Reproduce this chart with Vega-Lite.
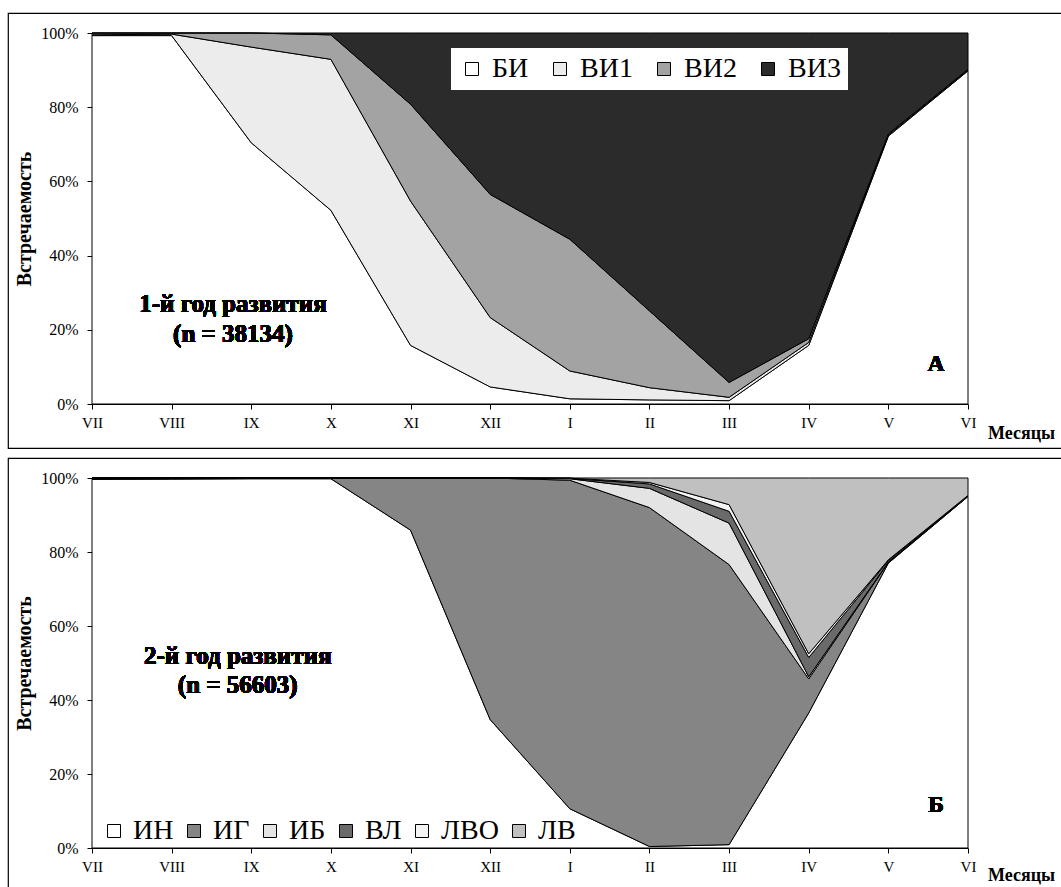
{
  "$schema": "https://vega.github.io/schema/vega-lite/v6.json",
  "padding": {"left": 7, "top": 12, "right": 0, "bottom": 0},
  "spacing": 8,
  "config": {
    "view": {"stroke": "black", "strokeWidth": 1.2},
    "font": "Liberation Serif, Times New Roman, serif",
    "axis": {"labelFont": "Liberation Serif, Times New Roman, serif", "titleFont": "Liberation Serif, Times New Roman, serif", "labelColor": "black", "titleColor": "black", "domainColor": "black", "tickColor": "black", "grid": false, "tickSize": 5, "domainWidth": 1, "tickWidth": 1},
    "legend": {"labelFont": "Liberation Serif, Times New Roman, serif", "labelColor": "black"},
    "text": {"font": "Liberation Serif, Times New Roman, serif", "color": "black"}
  },
  "resolve": {"scale": {"color": "independent", "x": "independent", "y": "independent"}, "legend": {"color": "independent"}},
  "vconcat": [
    {
      "width": 1054,
      "height": 435,
      "data": {"values": [
        {"m": 0, "s": "БИ", "k": 1, "v": 99.3}, {"m": 0, "s": "ВИ1", "k": 2, "v": 0.2}, {"m": 0, "s": "ВИ2", "k": 3, "v": 0.5}, {"m": 0, "s": "ВИ3", "k": 4, "v": 0},
        {"m": 1, "s": "БИ", "k": 1, "v": 99.3}, {"m": 1, "s": "ВИ1", "k": 2, "v": 0.4}, {"m": 1, "s": "ВИ2", "k": 3, "v": 0.3}, {"m": 1, "s": "ВИ3", "k": 4, "v": 0},
        {"m": 2, "s": "БИ", "k": 1, "v": 70.4}, {"m": 2, "s": "ВИ1", "k": 2, "v": 25.8}, {"m": 2, "s": "ВИ2", "k": 3, "v": 3.8}, {"m": 2, "s": "ВИ3", "k": 4, "v": 0},
        {"m": 3, "s": "БИ", "k": 1, "v": 52.2}, {"m": 3, "s": "ВИ1", "k": 2, "v": 40.7}, {"m": 3, "s": "ВИ2", "k": 3, "v": 6.6}, {"m": 3, "s": "ВИ3", "k": 4, "v": 0.5},
        {"m": 4, "s": "БИ", "k": 1, "v": 15.8}, {"m": 4, "s": "ВИ1", "k": 2, "v": 38.9}, {"m": 4, "s": "ВИ2", "k": 3, "v": 26.1}, {"m": 4, "s": "ВИ3", "k": 4, "v": 19.2},
        {"m": 5, "s": "БИ", "k": 1, "v": 4.6}, {"m": 5, "s": "ВИ1", "k": 2, "v": 18.7}, {"m": 5, "s": "ВИ2", "k": 3, "v": 33.2}, {"m": 5, "s": "ВИ3", "k": 4, "v": 43.5},
        {"m": 6, "s": "БИ", "k": 1, "v": 1.4}, {"m": 6, "s": "ВИ1", "k": 2, "v": 7.5}, {"m": 6, "s": "ВИ2", "k": 3, "v": 35.5}, {"m": 6, "s": "ВИ3", "k": 4, "v": 55.6},
        {"m": 7, "s": "БИ", "k": 1, "v": 1.1}, {"m": 7, "s": "ВИ1", "k": 2, "v": 3.3}, {"m": 7, "s": "ВИ2", "k": 3, "v": 20.7}, {"m": 7, "s": "ВИ3", "k": 4, "v": 74.9},
        {"m": 8, "s": "БИ", "k": 1, "v": 0.9}, {"m": 8, "s": "ВИ1", "k": 2, "v": 0.9}, {"m": 8, "s": "ВИ2", "k": 3, "v": 4.0}, {"m": 8, "s": "ВИ3", "k": 4, "v": 94.2},
        {"m": 9, "s": "БИ", "k": 1, "v": 15.8}, {"m": 9, "s": "ВИ1", "k": 2, "v": 0.8}, {"m": 9, "s": "ВИ2", "k": 3, "v": 1.0}, {"m": 9, "s": "ВИ3", "k": 4, "v": 82.4},
        {"m": 10, "s": "БИ", "k": 1, "v": 72.2}, {"m": 10, "s": "ВИ1", "k": 2, "v": 0.3}, {"m": 10, "s": "ВИ2", "k": 3, "v": 0.3}, {"m": 10, "s": "ВИ3", "k": 4, "v": 27.2},
        {"m": 11, "s": "БИ", "k": 1, "v": 89.8}, {"m": 11, "s": "ВИ1", "k": 2, "v": 0.2}, {"m": 11, "s": "ВИ2", "k": 3, "v": 0.2}, {"m": 11, "s": "ВИ3", "k": 4, "v": 9.8}
      ]},
      "layer": [
        {
          "mark": {"type": "area", "stroke": "black", "strokeWidth": 1},
          "encoding": {
            "x": {"field": "m", "type": "quantitative", "scale": {"domain": [0, 11], "range": [84, 960], "nice": false, "zero": false},
              "axis": {"orient": "bottom", "offset": -44, "values": [0,1,2,3,4,5,6,7,8,9,10,11], "labelExpr": "['VII','VIII','IX','X','XI','XII','I','II','III','IV','V','VI'][datum.value]", "labelFontSize": 15, "labelPadding": 6, "labelFlush": false,
                "title": "Месяцы", "titleFontSize": 18, "titleFontWeight": "bold", "titleX": 1013, "titleY": 29, "titleAlign": "center", "titleBaseline": "middle", "titleAnchor": null}},
            "y": {"field": "v", "type": "quantitative", "stack": "normalize", "scale": {"domain": [0, 1], "range": [391, 20], "nice": false},
              "axis": {"orient": "left", "offset": -84, "values": [0, 0.2, 0.4, 0.6, 0.8, 1], "format": ".0%", "labelFontSize": 16, "labelPadding": 9,
                "title": "Встречаемость", "titleFontSize": 20, "titleFontWeight": "bold", "titlePadding": 6}},
            "color": {"field": "s", "type": "nominal", "scale": {"domain": ["БИ", "ВИ1", "ВИ2", "ВИ3"], "range": ["#ffffff", "#ececec", "#a3a3a3", "#2b2b2b"]},
              "legend": {"orient": "none", "legendX": 443, "legendY": 35, "direction": "horizontal", "title": null, "labelFontSize": 28, "symbolType": "square", "symbolSize": 169, "symbolStrokeColor": "black", "symbolStrokeWidth": 1, "labelOffset": 6, "columnPadding": 17, "fillColor": "white", "padding": 7}},
            "order": {"field": "k", "type": "quantitative"}
          }
        },
        {
          "mark": {"type": "text", "text": "1-й год развития", "fontSize": 25, "fontWeight": "bold", "align": "center", "baseline": "middle"},
          "encoding": {"x": {"datum": 1.77, "type": "quantitative"}, "y": {"datum": 0.27, "type": "quantitative"}}
        },
        {
          "mark": {"type": "text", "text": "(n = 38134)", "fontSize": 25, "fontWeight": "bold", "align": "center", "baseline": "middle"},
          "encoding": {"x": {"datum": 1.77, "type": "quantitative"}, "y": {"datum": 0.189, "type": "quantitative"}}
        },
        {
          "mark": {"type": "text", "text": "А", "fontSize": 23, "fontWeight": "bold", "align": "center", "baseline": "middle"},
          "encoding": {"x": {"datum": 10.6, "type": "quantitative"}, "y": {"datum": 0.108, "type": "quantitative"}}
        }
      ]
    },
    {
      "width": 1054,
      "height": 432,
      "data": {"values": [
        {"m": 0, "s": "ИН", "k": 1, "v": 99.6}, {"m": 0, "s": "ИГ", "k": 2, "v": 0.4}, {"m": 0, "s": "ИБ", "k": 3, "v": 0}, {"m": 0, "s": "ВЛ", "k": 4, "v": 0}, {"m": 0, "s": "ЛВО", "k": 5, "v": 0}, {"m": 0, "s": "ЛВ", "k": 6, "v": 0},
        {"m": 1, "s": "ИН", "k": 1, "v": 99.7}, {"m": 1, "s": "ИГ", "k": 2, "v": 0.3}, {"m": 1, "s": "ИБ", "k": 3, "v": 0}, {"m": 1, "s": "ВЛ", "k": 4, "v": 0}, {"m": 1, "s": "ЛВО", "k": 5, "v": 0}, {"m": 1, "s": "ЛВ", "k": 6, "v": 0},
        {"m": 2, "s": "ИН", "k": 1, "v": 99.8}, {"m": 2, "s": "ИГ", "k": 2, "v": 0.2}, {"m": 2, "s": "ИБ", "k": 3, "v": 0}, {"m": 2, "s": "ВЛ", "k": 4, "v": 0}, {"m": 2, "s": "ЛВО", "k": 5, "v": 0}, {"m": 2, "s": "ЛВ", "k": 6, "v": 0},
        {"m": 3, "s": "ИН", "k": 1, "v": 99.8}, {"m": 3, "s": "ИГ", "k": 2, "v": 0.2}, {"m": 3, "s": "ИБ", "k": 3, "v": 0}, {"m": 3, "s": "ВЛ", "k": 4, "v": 0}, {"m": 3, "s": "ЛВО", "k": 5, "v": 0}, {"m": 3, "s": "ЛВ", "k": 6, "v": 0},
        {"m": 4, "s": "ИН", "k": 1, "v": 85.9}, {"m": 4, "s": "ИГ", "k": 2, "v": 14.1}, {"m": 4, "s": "ИБ", "k": 3, "v": 0}, {"m": 4, "s": "ВЛ", "k": 4, "v": 0}, {"m": 4, "s": "ЛВО", "k": 5, "v": 0}, {"m": 4, "s": "ЛВ", "k": 6, "v": 0},
        {"m": 5, "s": "ИН", "k": 1, "v": 34.7}, {"m": 5, "s": "ИГ", "k": 2, "v": 65.3}, {"m": 5, "s": "ИБ", "k": 3, "v": 0}, {"m": 5, "s": "ВЛ", "k": 4, "v": 0}, {"m": 5, "s": "ЛВО", "k": 5, "v": 0}, {"m": 5, "s": "ЛВ", "k": 6, "v": 0},
        {"m": 6, "s": "ИН", "k": 1, "v": 10.6}, {"m": 6, "s": "ИГ", "k": 2, "v": 88.8}, {"m": 6, "s": "ИБ", "k": 3, "v": 0.4}, {"m": 6, "s": "ВЛ", "k": 4, "v": 0.1}, {"m": 6, "s": "ЛВО", "k": 5, "v": 0.05}, {"m": 6, "s": "ЛВ", "k": 6, "v": 0.05},
        {"m": 7, "s": "ИН", "k": 1, "v": 0.4}, {"m": 7, "s": "ИГ", "k": 2, "v": 91.6}, {"m": 7, "s": "ИБ", "k": 3, "v": 5.2}, {"m": 7, "s": "ВЛ", "k": 4, "v": 1.2}, {"m": 7, "s": "ЛВО", "k": 5, "v": 0.4}, {"m": 7, "s": "ЛВ", "k": 6, "v": 1.2},
        {"m": 8, "s": "ИН", "k": 1, "v": 0.9}, {"m": 8, "s": "ИГ", "k": 2, "v": 75.7}, {"m": 8, "s": "ИБ", "k": 3, "v": 11.2}, {"m": 8, "s": "ВЛ", "k": 4, "v": 3.2}, {"m": 8, "s": "ЛВО", "k": 5, "v": 1.8}, {"m": 8, "s": "ЛВ", "k": 6, "v": 7.2},
        {"m": 9, "s": "ИН", "k": 1, "v": 36.5}, {"m": 9, "s": "ИГ", "k": 2, "v": 9.2}, {"m": 9, "s": "ИБ", "k": 3, "v": 0.6}, {"m": 9, "s": "ВЛ", "k": 4, "v": 5.2}, {"m": 9, "s": "ЛВО", "k": 5, "v": 1.0}, {"m": 9, "s": "ЛВ", "k": 6, "v": 47.5},
        {"m": 10, "s": "ИН", "k": 1, "v": 77.0}, {"m": 10, "s": "ИГ", "k": 2, "v": 0.2}, {"m": 10, "s": "ИБ", "k": 3, "v": 0.1}, {"m": 10, "s": "ВЛ", "k": 4, "v": 0.4}, {"m": 10, "s": "ЛВО", "k": 5, "v": 0.2}, {"m": 10, "s": "ЛВ", "k": 6, "v": 22.1},
        {"m": 11, "s": "ИН", "k": 1, "v": 95.0}, {"m": 11, "s": "ИГ", "k": 2, "v": 0.1}, {"m": 11, "s": "ИБ", "k": 3, "v": 0.05}, {"m": 11, "s": "ВЛ", "k": 4, "v": 0.05}, {"m": 11, "s": "ЛВО", "k": 5, "v": 0.1}, {"m": 11, "s": "ЛВ", "k": 6, "v": 4.7}
      ]},
      "layer": [
        {
          "mark": {"type": "area", "stroke": "black", "strokeWidth": 1},
          "encoding": {
            "x": {"field": "m", "type": "quantitative", "scale": {"domain": [0, 11], "range": [84, 960], "nice": false, "zero": false},
              "axis": {"orient": "bottom", "offset": -42, "values": [0,1,2,3,4,5,6,7,8,9,10,11], "labelExpr": "['VII','VIII','IX','X','XI','XII','I','II','III','IV','V','VI'][datum.value]", "labelFontSize": 15, "labelPadding": 6, "labelFlush": false,
                "title": "Месяцы", "titleFontSize": 18, "titleFontWeight": "bold", "titleX": 1013, "titleY": 27, "titleAlign": "center", "titleBaseline": "middle", "titleAnchor": null}},
            "y": {"field": "v", "type": "quantitative", "stack": "normalize", "scale": {"domain": [0, 1], "range": [390, 20], "nice": false},
              "axis": {"orient": "left", "offset": -84, "values": [0, 0.2, 0.4, 0.6, 0.8, 1], "format": ".0%", "labelFontSize": 16, "labelPadding": 9,
                "title": "Встречаемость", "titleFontSize": 20, "titleFontWeight": "bold", "titlePadding": 6}},
            "color": {"field": "s", "type": "nominal", "scale": {"domain": ["ИН", "ИГ", "ИБ", "ВЛ", "ЛВО", "ЛВ"], "range": ["#ffffff", "#858585", "#e4e4e4", "#6a6a6a", "#f3f3f3", "#c0c0c0"]},
              "legend": {"orient": "none", "legendX": 88, "legendY": 355, "direction": "horizontal", "title": null, "labelFontSize": 28, "symbolType": "square", "symbolSize": 169, "symbolStrokeColor": "black", "symbolStrokeWidth": 1, "labelOffset": 5, "columnPadding": 6, "padding": 4}},
            "order": {"field": "k", "type": "quantitative"}
          }
        },
        {
          "mark": {"type": "text", "text": "2-й год развития", "fontSize": 25, "fontWeight": "bold", "align": "center", "baseline": "middle"},
          "encoding": {"x": {"datum": 1.83, "type": "quantitative"}, "y": {"datum": 0.519, "type": "quantitative"}}
        },
        {
          "mark": {"type": "text", "text": "(n = 56603)", "fontSize": 25, "fontWeight": "bold", "align": "center", "baseline": "middle"},
          "encoding": {"x": {"datum": 1.83, "type": "quantitative"}, "y": {"datum": 0.4405, "type": "quantitative"}}
        },
        {
          "mark": {"type": "text", "text": "Б", "fontSize": 23, "fontWeight": "bold", "align": "center", "baseline": "middle"},
          "encoding": {"x": {"datum": 10.6, "type": "quantitative"}, "y": {"datum": 0.116, "type": "quantitative"}}
        }
      ]
    }
  ]
}
